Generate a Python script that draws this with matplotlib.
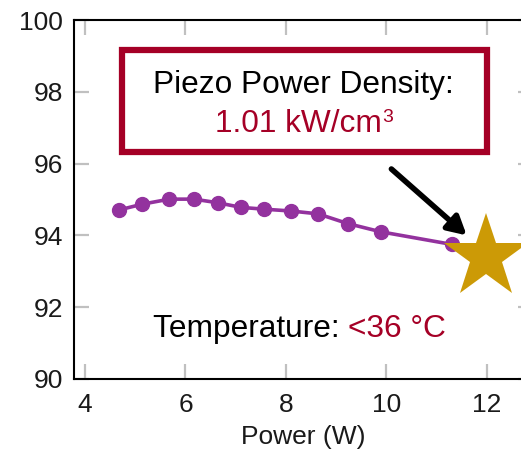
import numpy as np
import matplotlib
matplotlib.use('Agg')
import matplotlib.pyplot as plt
from matplotlib.patches import Rectangle

plt.rcParams['font.family'] = ['Liberation Sans', 'DejaVu Sans']

# data
power = [4.68, 5.14, 5.68, 6.17, 6.64, 7.11, 7.57, 8.10, 8.64, 9.23, 9.89, 11.30]
efficiency = [94.71, 94.87, 95.01, 95.01, 94.91, 94.78, 94.73, 94.68, 94.60, 94.33, 94.10, 93.75]
star_power = [11.98]
star_eff = [93.41]
x_ticks = [4, 6, 8, 10, 12]
y_ticks = [90, 92, 94, 96, 98, 100]

PURPLE = '#93329E'
RED = '#A50026'
GOLD = '#CC9A06'
FS = 22.8

fig = plt.figure(figsize=(5.21, 4.49), dpi=100)
ax = fig.add_axes([74/521, 70/449, 459/521, 359/449])

ax.plot(power, efficiency, color=PURPLE, lw=2.6, marker='o', ms=10, zorder=3)
ax.plot(star_power, star_eff, ls='none', marker='*', ms=64, color=GOLD,
        markeredgewidth=0, zorder=4, clip_on=False)

ax.set_xlim(3.78, 12.92)
ax.set_ylim(90, 100)
ax.set_xticks(x_ticks)
ax.set_yticks(y_ticks)
ax.tick_params(direction='in', length=11, width=1.6, color='#c0c0c0',
               labelsize=19, pad=8, top=True, right=True, labelcolor='#1a1a1a')
ax.tick_params(axis='x', pad=10)
for s in ax.spines.values():
    s.set_linewidth(1.5)
ax.set_xlabel('Power (W)', fontsize=19, labelpad=6, color='#1a1a1a')

# annotation box
ax.add_patch(Rectangle((4.74, 96.33), 7.27, 2.83, fill=False, ec=RED, lw=4.5,
                       zorder=5))
ax.text(8.35, 97.97, 'Piezo Power Density:', ha='center', va='baseline',
        fontsize=FS, color='black')

# second line: "1.01 kW/cm" + small superscript 3, centred together
fig.canvas.draw()
inv = ax.transData.inverted()
m = ax.text(0, 96.88, '1.01 kW/cm', ha='left', va='baseline', fontsize=FS, color=RED)
s3 = ax.text(0, 96.88, '3', ha='left', va='baseline', fontsize=14, color=RED)
fig.canvas.draw()
wm = m.get_window_extent().width
ws = s3.get_window_extent().width
cx = ax.transData.transform((8.35, 96.88))[0]
left_px = cx - (wm + ws) / 2
y_px = ax.transData.transform((8.35, 96.88))[1]
m.set_x(inv.transform((left_px, y_px))[0])
s3.set_x(inv.transform((left_px + wm + 1, y_px))[0])
s3.set_y(inv.transform((left_px, y_px + 10))[1])

ax.annotate('', xy=(11.6, 94.0), xytext=(10.1, 95.85),
            arrowprops=dict(arrowstyle='-|>,head_length=1.1,head_width=0.6',
                            color='black', lw=4, shrinkA=0, shrinkB=0))

t1 = ax.text(5.35, 91.17, 'Temperature: ', ha='left', va='baseline',
             fontsize=FS, color='black')
fig.canvas.draw()
bb = t1.get_window_extent()
x_end = inv.transform((bb.x1, bb.y0))[0]
ax.text(x_end, 91.17, '<36 °C', ha='left', va='baseline', fontsize=FS, color=RED)

fig.savefig('out.png', dpi=100)
